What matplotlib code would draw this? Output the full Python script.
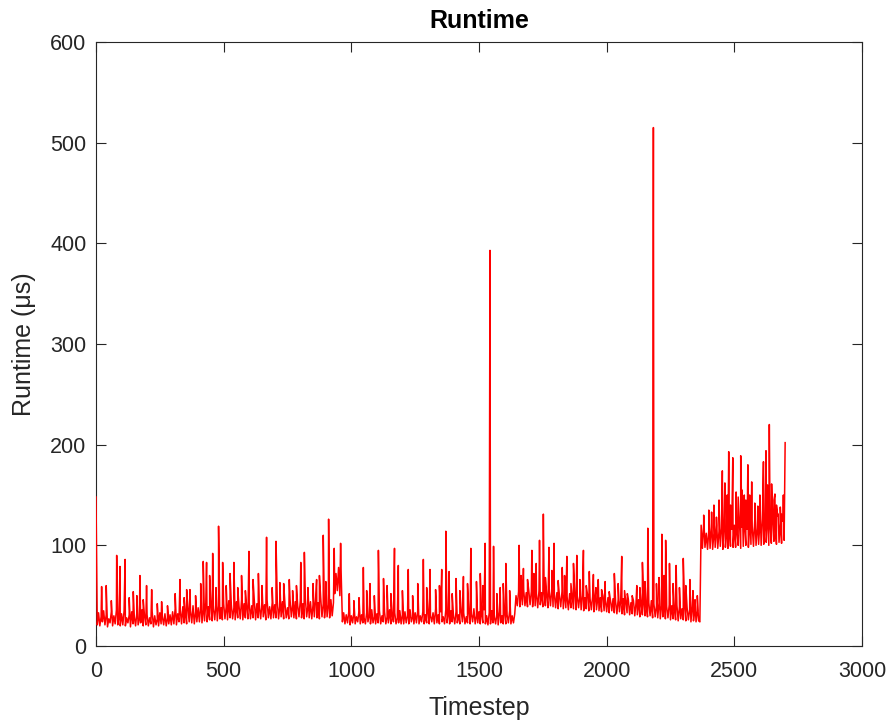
import matplotlib
matplotlib.use("Agg")
import matplotlib.pyplot as plt

# baseline runtime, one value every 5 timesteps (0 .. 2695)
base_step = 5
base_values = [
    148, 21, 33, 20, 29, 24, 35, 21, 31, 19, 27, 23, 34, 20, 30, 22, 36, 21, 28, 20,
    32, 21, 35, 20, 28, 23, 31, 19, 34, 22, 29, 20, 33, 21, 27, 23, 36, 20, 30, 21,
    31, 20, 28, 22, 34, 19, 30, 21, 27, 20, 33, 22, 29, 21, 32, 20, 28, 22, 31, 21,
    34, 22, 37, 21, 32, 24, 36, 22, 39, 23, 33, 22, 38, 24, 35, 23, 40, 22, 34, 24,
    38, 24, 41, 23, 36, 25, 43, 24, 39, 26, 42, 25, 37, 26, 44, 25, 40, 27, 38, 26,
    42, 27, 39, 26, 45, 28, 41, 27, 38, 26, 44, 28, 40, 27, 46, 26, 42, 28, 39, 27,
    43, 27, 40, 28, 45, 26, 42, 28, 38, 27, 44, 29, 41, 26, 46, 28, 39, 27, 43, 28,
    41, 28, 45, 27, 40, 29, 44, 27, 42, 28, 38, 27, 46, 29, 41, 28, 44, 27, 40, 29,
    45, 28, 42, 27, 47, 29, 40, 28, 44, 27, 41, 29, 46, 28, 43, 27, 48, 29, 42, 28,
    44, 29, 41, 28, 46, 30, 43, 52, 72, 55, 78, 50, 74, 24, 33, 22, 31, 23, 34, 21,
    30, 23, 34, 22, 29, 24, 35, 22, 31, 23, 28, 22, 33, 24, 30, 22, 36, 23, 29, 22,
    32, 23, 35, 22, 30, 24, 34, 22, 29, 23, 36, 22, 31, 24, 33, 22, 28, 23, 35, 22,
    31, 22, 34, 23, 30, 22, 36, 24, 29, 22, 33, 23, 35, 22, 30, 24, 34, 22, 31, 23,
    35, 22, 30, 24, 33, 22, 37, 23, 31, 22, 34, 24, 29, 22, 36, 23, 32, 22, 35, 24,
    30, 22, 34, 23, 31, 22, 36, 24, 33, 22, 29, 23, 35, 22, 32, 24, 37, 22, 30, 23,
    34, 22, 31, 23, 36, 22, 30, 21, 33, 22, 35, 23, 29, 22, 32, 21, 34, 23, 30, 22,
    33, 22, 31, 23, 35, 22, 30, 23, 32, 50, 40, 54, 39, 52, 41, 56, 40, 53, 39, 55,
    41, 54, 39, 57, 40, 52, 38, 55, 41, 53, 39, 56, 40, 51, 38, 54, 40, 57, 39, 52,
    38, 53, 37, 50, 39, 54, 37, 51, 38, 49, 36, 52, 38, 50, 37, 53, 36, 49, 38, 51,
    36, 50, 35, 48, 37, 51, 35, 47, 36, 49, 34, 50, 36, 47, 35, 48, 34, 50, 35, 46,
    34, 48, 33, 45, 35, 47, 33, 44, 32, 46, 34, 45, 32, 47, 31, 44, 33, 46, 31, 43,
    32, 45, 30, 43, 31, 46, 29, 42, 31, 44, 30, 41, 29, 43, 30, 45, 28, 42, 29, 40,
    28, 43, 27, 40, 29, 42, 27, 39, 28, 41, 26, 40, 27, 38, 26, 41, 25, 39, 27, 37,
    26, 40, 25, 38, 26, 36, 24, 39, 25, 37, 24, 35, 25, 24, 120, 97, 122, 98, 112, 96,
    115, 97, 118, 96, 112, 98, 120, 97, 114, 99, 117, 96, 121, 98, 113, 97, 119, 99, 116, 98,
    120, 98, 115, 100, 122, 97, 118, 99, 124, 100, 116, 98, 121, 101, 119, 99, 125, 100, 117, 101,
    122, 100, 126, 101, 119, 103, 128, 100, 121, 102, 127, 104, 120, 101, 129, 103, 122, 102, 124, 105,
]

# tall isolated spikes (timestep, runtime)
spike_steps = [
    22, 40, 81, 94, 114, 146, 172, 198, 218, 257, 329, 355, 368, 420, 433,
    457, 480, 496, 540, 570, 599, 636, 668, 705, 720, 757, 785, 802, 816,
    864, 890, 911, 933, 958, 992, 1047, 1073, 1106, 1126, 1169, 1184, 1223,
    1282, 1308, 1354, 1370, 1383, 1410, 1439, 1468, 1524, 1543, 1557, 1583,
    1605, 1657, 1674, 1707, 1724, 1737, 1752, 1774, 1794, 1826, 1844, 1870,
    1883, 1909, 1932, 1948, 1967, 1994, 2030, 2059, 2081, 2118, 2140, 2161,
    2183, 2205, 2216, 2231, 2246, 2272, 2300, 2326, 2346, 2380, 2411, 2430,
    2453, 2463, 2478, 2494, 2507, 2525, 2539, 2553, 2568, 2592, 2614, 2624,
    2637, 2646, 2659, 2672, 2685, 2699,
]
spike_values = [
    59, 60, 90, 79, 86, 54, 70, 60, 56, 44, 66, 56, 56, 84, 83,
    92, 119, 83, 83, 70, 94, 72, 108, 104, 63, 66, 60, 83, 93,
    66, 110, 126, 97, 102, 52, 78, 62, 95, 67, 97, 80, 76,
    86, 76, 76, 114, 74, 67, 69, 97, 102, 393, 99, 58,
    82, 100, 77, 95, 82, 105, 131, 98, 102, 78, 89, 82,
    90, 95, 74, 71, 66, 64, 72, 89, 52, 60, 83, 117,
    515, 68, 111, 105, 82, 80, 87, 66, 46, 130, 133, 128,
    174, 162, 193, 187, 153, 189, 150, 180, 163, 139, 183, 194,
    220, 161, 151, 131, 131, 202,
]

# smaller spikes just above the dense band
minor_steps = [
    60, 130, 160, 185, 240, 280, 310, 345, 390, 410, 445, 470, 510, 525,
    555, 585, 615, 650, 690, 735, 770, 830, 850, 875, 900,
    1010, 1030, 1060, 1090, 1140, 1155, 1200, 1240, 1260, 1295, 1330, 1345,
    1395, 1425, 1455, 1490, 1505, 1515, 1570, 1595, 1620,
    1665, 1690, 1715, 1760, 1785, 1810, 1835, 1860, 1895, 1920, 1958, 1980,
    2010, 2045, 2070, 2100, 2130, 2150, 2195, 2225, 2260, 2285, 2310, 2338,
    2355, 2400, 2420, 2440, 2472, 2485, 2515, 2530, 2545, 2560, 2580, 2600,
    2630, 2655, 2665, 2680, 2692,
]
minor_values = [
    45, 48, 50, 46, 42, 40, 52, 48, 50, 62, 70, 58, 60, 72,
    58, 55, 66, 60, 58, 62, 55, 58, 62, 70, 64,
    45, 48, 55, 50, 60, 52, 55, 50, 62, 58, 56, 60,
    52, 55, 62, 64, 72, 60, 52, 62, 55,
    70, 66, 72, 68, 75, 65, 70, 62, 66, 60, 58, 56,
    54, 62, 55, 50, 58, 64, 62, 70, 62, 58, 60, 55,
    50, 135, 140, 145, 150, 140, 148, 155, 145, 150, 142, 150,
    160, 145, 140, 138, 150,
]

points = [(i * base_step, v) for i, v in enumerate(base_values)]
points += list(zip(spike_steps, spike_values))
points += list(zip(minor_steps, minor_values))
points.sort(key=lambda p: p[0])
steps = [p[0] for p in points]
runtime = [p[1] for p in points]

dark = "#262626"
red = "#ff0000"
plt.rcParams["font.family"] = ["Liberation Sans", "DejaVu Sans"]

fig = plt.figure(figsize=(8.93, 7.21), dpi=100)
ax = fig.add_axes([96 / 893, 75 / 721, 766 / 893, 604 / 721])
ax.plot(steps, runtime, color=red, linewidth=1.1, zorder=3)

ax.set_xlim(0, 3000)
ax.set_ylim(0, 600)
ax.set_xticks(range(0, 3001, 500))
ax.set_yticks(range(0, 601, 100))
ax.tick_params(direction="in", top=True, right=True, length=7, width=0.8,
               colors=dark, labelsize=15.5)
ax.tick_params(axis="x", pad=11)
ax.tick_params(axis="y", pad=7)
for spine in ax.spines.values():
    spine.set_color(dark)
    spine.set_linewidth(0.8)

ax.set_title("Runtime", fontsize=18, fontweight="bold", color="black", pad=10)
ax.set_xlabel("Timestep", fontsize=18, color=dark, labelpad=10)
ax.set_ylabel("Runtime (μs)", fontsize=18, color=dark, labelpad=10)

fig.savefig("out.png", dpi=100)
plt.close(fig)
